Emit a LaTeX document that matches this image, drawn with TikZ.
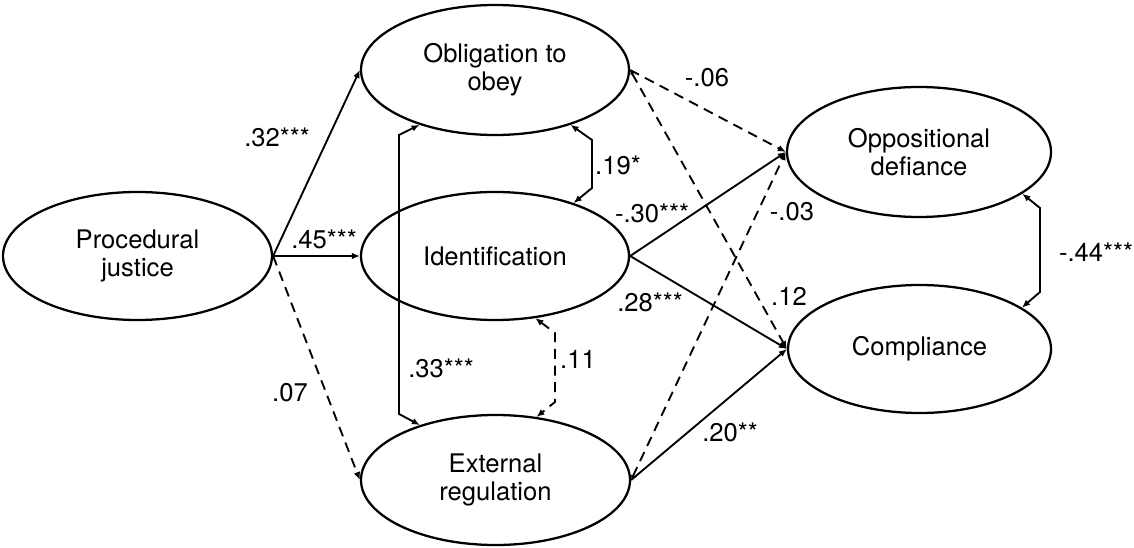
\documentclass[tikz,border=0pt]{standalone}
\usepackage{fontspec}
\setmainfont{TeX Gyre Heros}
\usetikzlibrary{shapes.geometric,arrows.meta}
\begin{document}
\begin{tikzpicture}[x=0.75pt,y=-0.75pt,
  var/.style={ellipse,draw,line width=1.7pt,inner sep=0pt,align=center,font=\fontsize{19.2}{21}\selectfont},
  lab/.style={inner sep=0pt,font=\fontsize{19.2}{21}\selectfont},
  solidarr/.style={line width=1.4pt,-{Latex[length=6pt,width=5pt]}},
  dasharr/.style={solidarr,dash pattern=on 7.5pt off 5pt},
  twoway/.style={line width=1.4pt,{Latex[length=6pt,width=5pt]}-{Latex[length=6pt,width=5pt]}},
  dtwoway/.style={twoway,dash pattern=on 7.5pt off 5pt},
  smalltail/.style={line width=1.4pt,dash pattern=on 7.5pt off 5pt,{Latex[length=3.5pt,width=3.5pt]}-{Latex[length=6pt,width=5pt]}}
]
\useasboundingbox (0,0) rectangle (1134,548);

\node[var,minimum width=201.75pt,minimum height=96pt] (pj) at (137.5,256) {Procedural\\justice};
\node[var,minimum width=201pt,minimum height=97.5pt] (obl) at (495,70) {Obligation to\\obey};
\node[var,minimum width=201pt,minimum height=96pt] (id) at (495,256) {Identification};
\node[var,minimum width=201.75pt,minimum height=97.5pt] (ext) at (495.5,480) {External\\regulation};
\node[var,minimum width=198pt,minimum height=97.5pt] (opp) at (919,152) {Oppositional\\defiance};
\node[var,minimum width=197.25pt,minimum height=96pt] (comp) at (919.5,349) {Compliance};

% paths from procedural justice
\draw[solidarr] (pj.east) -- (obl.west);
\draw[solidarr] (pj.east) -- (id.west);
\draw[dasharr] (pj.east) -- (ext.west);

% covariances among mediators
\draw[twoway] (obl.216) -- (399,135) -- (399,414) -- (ext.144);
\draw[twoway] (obl.324) -- (592,140) -- (592,188) -- (id.34);
\draw[dtwoway] (id.303) -- (555,333) -- (555,402) -- (ext.57);
\draw[twoway] (opp.338) -- (1040,208) -- (1040,292) -- (comp.22);

% paths to outcomes
\draw[dasharr] (obl.east) -- (opp.west);
\draw[smalltail] (obl.east) -- (comp.west);
\draw[solidarr] (id.east) -- (opp.west);
\draw[solidarr] (id.east) -- (comp.west);
\draw[smalltail] (ext.east) -- (opp.west);
\draw[solidarr] (ext.east) -- (comp.west);

% labels
\node[lab] (l32) at (277,137) {.32***};
\node[lab] (l45) at (324,239) {.45***};
\node[lab] (l07) at (290,393) {.07};
\node[lab] (l33) at (441,368) {.33***};
\node[lab] (l19) at (618,165) {.19*};
\node[lab] (l11) at (578,359) {.11};
\node[lab] (l06) at (707,78) {-.06};
\node[lab] (l30) at (652,213) {-.30***};
\node[lab] (l28) at (650,302) {.28***};
\node[lab] (l12) at (789,296) {.12};
\node[lab] (l03) at (792,212) {-.03};
\node[lab] (l20) at (730,432) {.20**};
\node[lab] (l44) at (1096,252) {-.44***};
\end{tikzpicture}
\end{document}
